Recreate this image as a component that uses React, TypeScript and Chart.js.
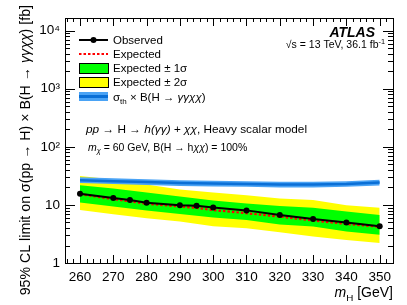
import React, { useEffect, useRef } from 'react';
import { Chart, registerables } from 'chart.js';

Chart.register(...registerables);

// ---------------- data ----------------
const massPoints = [260, 270, 275, 280, 290, 295, 300, 310, 320, 330, 340, 350];
const observed = [15.5, 13.1, 12.1, 10.9, 9.9, 9.7, 9.0, 8.05, 6.7, 5.7, 5.0, 4.3];
const expected = [15.3, 12.6, 11.5, 10.5, 9.4, 8.9, 8.15, 7.2, 6.3, 5.4, 4.7, 4.2];

const bandMass = [260, 270, 280, 290, 300, 310, 320, 330, 340, 350];
const plus1 = [21.8, 19.1, 16.4, 14.0, 11.9, 10.6, 9.6, 8.9, 7.7, 6.7];
const minus1 = [11.0, 9.4, 8.05, 6.97, 6.1, 5.5, 4.6, 4.24, 3.48, 3.05];
const plus2 = [31.6, 27.3, 22.4, 18.4, 16.4, 14.7, 12.9, 12.1, 9.9, 8.95];
const minus2 = [8.15, 6.9, 5.9, 5.16, 4.29, 3.96, 3.39, 2.86, 2.5, 2.2];
const theory = [26.6, 25.6, 24.7, 23.8, 23.3, 22.9, 22.4, 22.4, 22.9, 24.2];
const theoryRelUnc = 0.12;

const xRange = [255.5, 354];
const yRange = [1, 16500];
const xMajorStep = 10;
const xMinorStep = 2;
const yDecades = [1, 10, 100, 1000, 10000];
const supDigits: Record<string, string> = { '0': '⁰', '1': '¹', '2': '²', '3': '³', '4': '⁴' };

const legendLabels = ['Observed', 'Expected', 'Expected ± 1σ', 'Expected ± 2σ'];

// ---------------- styles ----------------
const FAMILY = '"Liberation Sans", Arial, Helvetica, sans-serif';
const YELLOW = '#ffff00';
const GREEN = '#00ff00';
const BLUE_FILL = '#4aa3f5';
const BLUE_LINE = '#0a6fd6';
const RED = '#ff0000';

type Seg = { t: string; it?: boolean; b?: boolean; sub?: boolean; sup?: boolean };

function segFont(s: Seg, size: number) {
  const sz = s.sub || s.sup ? size * 0.7 : size;
  return `${s.it ? 'italic ' : ''}${s.b ? 'bold ' : ''}${sz}px ${FAMILY}`;
}
function measureRich(ctx: CanvasRenderingContext2D, segs: Seg[], size: number) {
  let w = 0;
  for (const s of segs) {
    ctx.font = segFont(s, size);
    w += ctx.measureText(s.t).width;
  }
  return w;
}
function drawRich(
  ctx: CanvasRenderingContext2D,
  segs: Seg[],
  x: number,
  y: number,
  size: number,
  align: 'left' | 'right' = 'left'
) {
  let cx = align === 'right' ? x - measureRich(ctx, segs, size) : x;
  ctx.textAlign = 'left';
  ctx.textBaseline = 'alphabetic';
  for (const s of segs) {
    ctx.font = segFont(s, size);
    const dy = s.sub ? size * 0.28 : s.sup ? -size * 0.42 : 0;
    ctx.fillText(s.t, cx, y + dy);
    cx += ctx.measureText(s.t).width;
  }
}

const framePlugin = {
  id: 'atlasFrame',
  afterDatasetsDraw(chart: any) {
    const { ctx, chartArea: a } = chart;
    const x = chart.scales.x;
    const y = chart.scales.y;
    ctx.save();
    ctx.strokeStyle = '#000';
    ctx.lineWidth = 1;
    const seg = (x1: number, y1: number, x2: number, y2: number) => {
      ctx.beginPath();
      ctx.moveTo(x1, y1);
      ctx.lineTo(x2, y2);
      ctx.stroke();
    };
    for (let v = Math.ceil(x.min / xMinorStep) * xMinorStep; v <= x.max; v += xMinorStep) {
      const px = Math.round(x.getPixelForValue(v)) + 0.5;
      const len = v % xMajorStep === 0 ? 8 : 4;
      seg(px, a.bottom, px, a.bottom - len);
      seg(px, a.top, px, a.top + len);
    }
    for (const d of yDecades) {
      for (let k = 1; k <= 9; k++) {
        const v = k * d;
        if (v < y.min || v > y.max) continue;
        const py = Math.round(y.getPixelForValue(v)) + 0.5;
        const len = k === 1 ? 10 : 5;
        seg(a.left, py, a.left + len, py);
        seg(a.right, py, a.right - len, py);
      }
    }
    ctx.strokeRect(Math.round(a.left) + 0.5, Math.round(a.top) + 0.5, Math.round(a.right - a.left), Math.round(a.bottom - a.top));
    ctx.restore();
  },
  afterDraw(chart: any) {
    const { ctx, chartArea: a } = chart;
    ctx.save();
    ctx.fillStyle = '#000';

    // legend
    const lx0 = a.left + 14;
    const lx1 = lx0 + 29;
    const tx = lx1 + 5;
    const rows = [40, 54, 68, 82, 96.5];
    const lsize = 11.5;
    // observed
    ctx.strokeStyle = '#000';
    ctx.lineWidth = 2;
    ctx.beginPath();
    ctx.moveTo(lx0, rows[0]);
    ctx.lineTo(lx1, rows[0]);
    ctx.stroke();
    ctx.beginPath();
    ctx.arc((lx0 + lx1) / 2, rows[0], 3, 0, Math.PI * 2);
    ctx.fill();
    // expected
    ctx.strokeStyle = RED;
    ctx.lineWidth = 2;
    ctx.setLineDash([2.5, 2]);
    ctx.beginPath();
    ctx.moveTo(lx0, rows[1]);
    ctx.lineTo(lx1, rows[1]);
    ctx.stroke();
    ctx.setLineDash([]);
    // boxes
    ctx.lineWidth = 1;
    ctx.strokeStyle = '#000';
    ctx.fillStyle = GREEN;
    ctx.fillRect(lx0, rows[2] - 5, lx1 - lx0, 10);
    ctx.strokeRect(lx0 + 0.5, Math.round(rows[2] - 5) + 0.5, lx1 - lx0, 10);
    ctx.fillStyle = YELLOW;
    ctx.fillRect(lx0, rows[3] - 5, lx1 - lx0, 10);
    ctx.strokeRect(lx0 + 0.5, Math.round(rows[3] - 5) + 0.5, lx1 - lx0, 10);
    ctx.fillStyle = BLUE_FILL;
    ctx.fillRect(lx0, rows[4] - 4.5, lx1 - lx0, 9);
    ctx.strokeStyle = BLUE_LINE;
    ctx.lineWidth = 3;
    ctx.beginPath();
    ctx.moveTo(lx0, rows[4]);
    ctx.lineTo(lx1, rows[4]);
    ctx.stroke();

    ctx.fillStyle = '#000';
    for (let i = 0; i < legendLabels.length; i++) {
      drawRich(ctx, [{ t: legendLabels[i] }], tx, rows[i] + 4, lsize);
    }
    drawRich(
      ctx,
      [{ t: 'σ' }, { t: 'th', sub: true }, { t: ' × B(H → ' }, { t: 'γγχχ', it: true }, { t: ')' }],
      tx,
      rows[4] + 4,
      lsize
    );

    // ATLAS label
    drawRich(ctx, [{ t: 'ATLAS', it: true, b: true }], a.right - 18, 37, 14, 'right');
    drawRich(
      ctx,
      [{ t: '√s = 13 TeV, 36.1 fb' }, { t: '-1', sup: true }],
      a.right - 8,
      48,
      10.5,
      'right'
    );

    // process description
    drawRich(
      ctx,
      [
        { t: 'pp', it: true },
        { t: ' → H → ' },
        { t: 'h(γγ) + χχ', it: true },
        { t: ', Heavy scalar model' },
      ],
      a.left + 21,
      133,
      11.8
    );
    drawRich(
      ctx,
      [
        { t: 'm', it: true },
        { t: 'χ', it: true, sub: true },
        { t: ' = 60 GeV, B(H → h' },
        { t: 'χχ', it: true },
        { t: ') = 100%' },
      ],
      a.left + 23,
      150.5,
      10.5
    );

    // x axis title
    drawRich(ctx, [{ t: 'm', it: true }, { t: 'H', sub: true }, { t: ' [GeV]' }], a.right, 297, 14, 'right');

    // y axis title
    ctx.save();
    ctx.translate(30, 5);
    ctx.rotate(-Math.PI / 2);
    drawRich(
      ctx,
      [
        { t: '95% CL limit on σ(pp → H) × B(H → ' },
        { t: 'γγχχ', it: true },
        { t: ') [fb]' },
      ],
      0,
      0,
      14.2,
      'right'
    );
    ctx.restore();

    ctx.restore();
  },
};

function toXY(xs: number[], ys: number[]) {
  return xs.map((m, i) => ({ x: m, y: ys[i] }));
}

export default function App() {
  const ref = useRef<HTMLCanvasElement | null>(null);

  useEffect(() => {
    if (!ref.current) return;
    const base = { pointRadius: 0, borderWidth: 0, tension: 0 };
    const chart = new Chart(ref.current, {
      type: 'line',
      data: {
        datasets: [
          {
            ...base,
            label: 'Observed',
            data: toXY(massPoints, observed),
            borderColor: '#000',
            borderWidth: 2,
            pointRadius: 3,
            pointBackgroundColor: '#000',
            pointBorderWidth: 0,
            fill: false,
          },
          {
            ...base,
            label: 'Expected',
            data: toXY(massPoints, expected),
            borderColor: RED,
            borderWidth: 2.2,
            borderDash: [2.5, 2],
            fill: false,
          },
          {
            ...base,
            label: 'theory',
            data: toXY(bandMass, theory),
            borderColor: BLUE_LINE,
            borderWidth: 2.5,
            fill: false,
          },
          {
            ...base,
            label: 'theory up',
            data: toXY(bandMass, theory.map((t) => t * (1 + theoryRelUnc))),
            backgroundColor: BLUE_FILL,
            fill: '+1',
          },
          {
            ...base,
            label: 'theory down',
            data: toXY(bandMass, theory.map((t) => t / (1 + theoryRelUnc))),
            fill: false,
          },
          {
            ...base,
            label: '+1 sigma',
            data: toXY(bandMass, plus1),
            backgroundColor: GREEN,
            fill: '+1',
          },
          { ...base, label: '-1 sigma', data: toXY(bandMass, minus1), fill: false },
          {
            ...base,
            label: '+2 sigma',
            data: toXY(bandMass, plus2),
            backgroundColor: YELLOW,
            fill: '+1',
          },
          { ...base, label: '-2 sigma', data: toXY(bandMass, minus2), fill: false },
        ],
      },
      options: {
        animation: false,
        responsive: false,
        layout: { padding: { top: 18, right: 14, left: 0, bottom: 0 } },
        plugins: { legend: { display: false }, tooltip: { enabled: false } },
        scales: {
          x: {
            type: 'linear',
            min: xRange[0],
            max: xRange[1],
            grid: { display: false, drawTicks: false },
            border: { display: false },
            ticks: {
              stepSize: xMajorStep,
              includeBounds: false,
              autoSkip: false,
              maxRotation: 0,
              padding: 6,
              color: '#000',
              font: { family: FAMILY, size: 13.5 },
              callback: (v: any) => (Number(v) % xMajorStep === 0 ? String(v) : ''),
            },
            afterFit: (s: any) => {
              s.height = 42;
            },
          },
          y: {
            type: 'logarithmic',
            min: yRange[0],
            max: yRange[1],
            grid: { display: false, drawTicks: false },
            border: { display: false },
            ticks: {
              autoSkip: false,
              includeBounds: false,
              padding: 5,
              color: '#000',
              font: { family: FAMILY, size: 13.5 },
              callback: (v: any) => {
                const n = Number(v);
                const e = Math.log10(n);
                if (Math.abs(e - Math.round(e)) > 1e-9) return '';
                const p = Math.round(e);
                if (p === 0) return '1';
                if (p === 1) return '10';
                return '10' + supDigits[String(p)];
              },
            },
            afterFit: (s: any) => {
              s.width = 65;
            },
          },
        },
      },
      plugins: [framePlugin],
    } as any);
    return () => chart.destroy();
  }, []);

  return (
    <div style={{ position: 'fixed', left: 0, top: 0, width: 407, height: 305, background: '#fff' }}>
      <canvas ref={ref} width={407} height={305} style={{ display: 'block' }} />
    </div>
  );
}
